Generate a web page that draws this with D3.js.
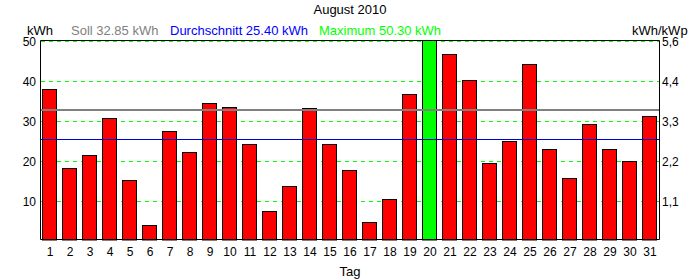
<!DOCTYPE html>
<html>
<head>
<meta charset="utf-8">
<script src="https://cdn.jsdelivr.net/npm/d3@7"></script>
<style>
  body { margin: 0; background: #fff; }
  text { font-family: "Liberation Sans", Arial, sans-serif; font-size: 12px; }
  .head { font-size: 13px; }
</style>
</head>
<body>
<script>
	//画布大小
	var width = 700;
	var height = 280;

	//数据
	var days = d3.range(1, 32);
	var dailyKwh = [38.0, 18.25, 21.5, 30.75, 15.25, 4.0, 27.5, 22.25, 34.5, 33.5,
		24.25, 7.5, 13.75, 33.25, 24.25, 17.75, 4.75, 10.5, 36.75, 50.3,
		46.75, 40.25, 19.5, 25.0, 44.25, 23.0, 15.75, 29.25, 23.0, 20.0, 31.25];
	var leftTicks = [10, 20, 30, 40, 50];
	var rightTickLabels = ["1,1", "2,2", "3,3", "4,4", "5,6"];
	var soll = 32.85;
	var durchschnitt = 25.40;
	var maximum = 50.30;

	var svg = d3.select("body")
		.append("svg")
		.attr("width", width)
		.attr("height", height);

	//绘图区
	var plot = {left: 40, right: 660, top: 40.5, bottom: 240};

	var xScale = d3.scaleBand()
		.domain(days)
		.range([plot.left, plot.right])
		.paddingInner(0.25)
		.paddingOuter(0.125);

	var yScale = d3.scaleLinear()
		.domain([0, 50])
		.range([241.5, 41.5]);

	//网格线
	svg.selectAll(".grid")
		.data(leftTicks)
		.enter()
		.append("line")
		.attr("class", "grid")
		.attr("x1", plot.left + 1)
		.attr("x2", plot.right)
		.attr("y1", function(d){ return yScale(d); })
		.attr("y2", function(d){ return yScale(d); })
		.style("stroke", "#00ff00")
		.style("stroke-width", 1)
		.style("stroke-dasharray", "4 4");

	//矩形
	svg.selectAll(".bar")
		.data(dailyKwh)
		.enter()
		.append("rect")
		.attr("class", "bar")
		.attr("x", function(d, i){ return xScale(days[i]); })
		.attr("y", function(d){ return Math.max(yScale(d), plot.top); })
		.attr("width", xScale.bandwidth() - 1)
		.attr("height", function(d){ return plot.bottom - Math.max(yScale(d), plot.top); })
		.attr("fill", function(d){ return d === maximum ? "#00ff00" : "#ff0000"; })
		.attr("stroke", "#000")
		.attr("stroke-width", 1);

	//Soll 和 平均线
	svg.append("line")
		.attr("x1", plot.left).attr("x2", plot.right)
		.attr("y1", yScale(soll)).attr("y2", yScale(soll))
		.attr("stroke", "#808080")
		.attr("stroke-width", 2);

	svg.append("line")
		.attr("x1", plot.left).attr("x2", plot.right)
		.attr("y1", Math.round(yScale(durchschnitt)) - 0.5).attr("y2", Math.round(yScale(durchschnitt)) - 0.5)
		.attr("stroke", "#0000dd")
		.attr("stroke-width", 1);

	//边框
	svg.append("path")
		.attr("d", "M" + (plot.left + 0.5) + "," + plot.top +
			"H" + (plot.right - 0.5) + "V" + (plot.bottom - 0.5) +
			"H" + (plot.left + 0.5) + "Z")
		.attr("fill", "none")
		.attr("stroke", "#000");

	//左轴标签
	svg.selectAll(".ltick")
		.data(leftTicks)
		.enter()
		.append("text")
		.attr("x", 36)
		.attr("y", function(d){ return yScale(d) + 4.5; })
		.attr("text-anchor", "end")
		.text(function(d){ return d; });

	//右轴标签
	svg.selectAll(".rtick")
		.data(leftTicks)
		.enter()
		.append("text")
		.attr("x", 662)
		.attr("y", function(d){ return yScale(d) + 4.5; })
		.text(function(d, i){ return rightTickLabels[i]; });

	//x轴标签
	svg.selectAll(".xtick")
		.data(days)
		.enter()
		.append("text")
		.attr("x", function(d){ return xScale(d) + xScale.bandwidth() / 2; })
		.attr("y", 256)
		.attr("text-anchor", "middle")
		.text(function(d){ return d; });

	//标题与图例
	svg.append("text").attr("class", "head").attr("x", 350).attr("y", 14).attr("text-anchor", "middle").text("August 2010");
	svg.append("text").attr("class", "head").attr("x", 350).attr("y", 276).attr("text-anchor", "middle").text("Tag");
	svg.append("text").attr("class", "head").attr("x", 27).attr("y", 35).text("kWh");
	svg.append("text").attr("class", "head").attr("x", 632).attr("y", 35).text("kWh/kWp");
	svg.append("text").attr("class", "head").attr("x", 71).attr("y", 35).attr("fill", "#808080").text("Soll " + soll.toFixed(2) + " kWh");
	svg.append("text").attr("class", "head").attr("x", 170).attr("y", 35).attr("fill", "#0000ff").text("Durchschnitt " + durchschnitt.toFixed(2) + " kWh");
	svg.append("text").attr("class", "head").attr("x", 319).attr("y", 35).attr("fill", "#00ff00").text("Maximum " + maximum.toFixed(2) + " kWh");
</script>
</body>
</html>
